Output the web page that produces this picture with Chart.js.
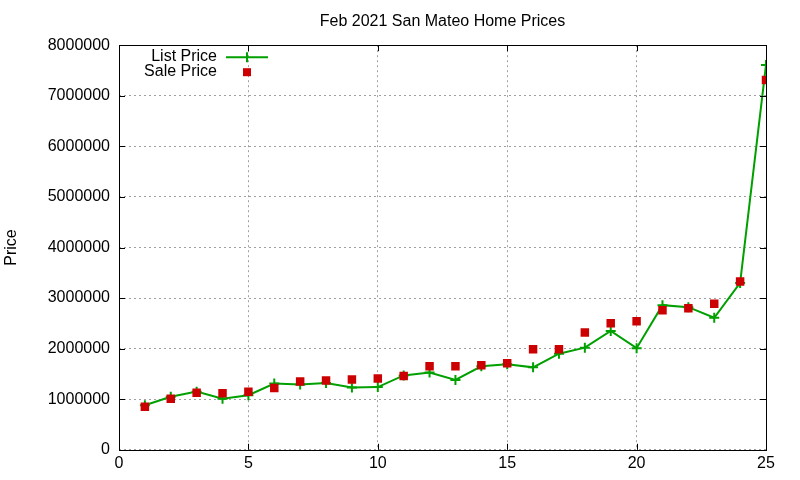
<!DOCTYPE html>
<html>
<head>
<meta charset="utf-8">
<script src="https://cdn.jsdelivr.net/npm/chart.js@4/dist/chart.umd.min.js"></script>
<style>
  html, body { margin: 0; padding: 0; background: #fff; }
  #wrap { width: 800px; height: 480px; }
</style>
</head>
<body>
<div id="wrap"><canvas id="myChart" width="800" height="480"></canvas></div>
<script>
// home index (1..25) in sorted order
var homes = [1, 2, 3, 4, 5, 6, 7, 8, 9, 10, 11, 12, 13, 14, 15, 16, 17, 18, 19, 20, 21, 22, 23, 24, 25];
var listPrices = [880000, 1050000, 1150000, 1010000, 1080000, 1310000, 1290000, 1320000, 1230000, 1240000,
                  1470000, 1530000, 1380000, 1650000, 1690000, 1630000, 1900000, 2020000, 2350000, 2010000,
                  2860000, 2820000, 2610000, 3300000, 7610000];
var salePrices = [850000, 1010000, 1130000, 1120000, 1150000, 1220000, 1350000, 1370000, 1390000, 1410000,
                  1460000, 1650000, 1650000, 1670000, 1710000, 1990000, 1990000, 2320000, 2500000, 2540000,
                  2760000, 2800000, 2890000, 3330000, 7310000];
var xTicks = [0, 5, 10, 15, 20, 25];
var yTicks = [0, 1000000, 2000000, 3000000, 4000000, 5000000, 6000000, 7000000, 8000000];

var GREEN = '#00a000';
var RED = '#cc0000';
var FONT = 'Liberation Sans, Arial, sans-serif';

function pts(xs, ys){
  var out = [];
  for (var i = 0; i < xs.length; i++){
    out.push({x: xs[i], y: ys[i]});
  }
  return out;
}

// gnuplot style frame, inward ticks and inner legend
var framePlugin = {
  id: 'frame',
  afterDraw: function(chart){
    var ctx = chart.ctx;
    var a = chart.chartArea;
    var xs = chart.scales.x, ys = chart.scales.y;
    ctx.save();
    ctx.strokeStyle = '#000';
    ctx.lineWidth = 1;
    ctx.beginPath();
    for (var i = 0; i < yTicks.length; i++){
      var py = Math.round(ys.getPixelForValue(yTicks[i])) + 0.5;
      ctx.moveTo(a.left, py); ctx.lineTo(a.left + 6, py);
      ctx.moveTo(a.right, py); ctx.lineTo(a.right - 6, py);
    }
    for (var j = 0; j < xTicks.length; j++){
      var px = Math.round(xs.getPixelForValue(xTicks[j])) + 0.5;
      ctx.moveTo(px, a.bottom); ctx.lineTo(px, a.bottom - 6);
      ctx.moveTo(px, a.top); ctx.lineTo(px, a.top + 6);
    }
    ctx.stroke();
    ctx.strokeRect(Math.round(a.left) + 0.5, Math.round(a.top) + 0.5,
                   Math.round(a.right - a.left), Math.round(a.bottom - a.top));

    // legend
    var ds = chart.data.datasets;
    ctx.font = '16px ' + FONT;
    ctx.fillStyle = '#000';
    ctx.textAlign = 'right';
    ctx.textBaseline = 'middle';
    var lx = a.left + 98, ly = a.top + 11;
    ctx.fillText(ds[1].label, lx, ly);
    ctx.fillText(ds[0].label, lx, ly + 15);
    // list price sample
    ctx.strokeStyle = GREEN;
    ctx.lineWidth = 2;
    ctx.beginPath();
    ctx.moveTo(lx + 9, ly + 1); ctx.lineTo(lx + 51, ly + 1);
    ctx.moveTo(lx + 30, ly - 4); ctx.lineTo(lx + 30, ly + 6);
    ctx.stroke();
    // sale price sample
    ctx.fillStyle = RED;
    ctx.fillRect(lx + 26, ly + 12, 8, 8);
    ctx.restore();
  }
};

var ctx = document.getElementById('myChart');
var myChart = new Chart(ctx, {
  type: 'scatter',
  data: {
    datasets: [{
      label: 'Sale Price',
      data: pts(homes, salePrices),
      showLine: false,
      pointStyle: 'rect',
      pointRadius: 6,
      pointBackgroundColor: RED,
      pointBorderColor: RED,
      pointBorderWidth: 0
    }, {
      label: 'List Price',
      data: pts(homes, listPrices),
      showLine: true,
      borderColor: GREEN,
      borderWidth: 2,
      pointStyle: 'cross',
      pointRadius: 5,
      pointBorderColor: GREEN,
      pointBorderWidth: 2,
      tension: 0
    }]
  },
  options: {
    responsive: false,
    animation: false,
    layout: { padding: { left: 2, right: 34, top: 0, bottom: 3 } },
    plugins: {
      legend: { display: false },
      tooltip: { enabled: false },
      title: {
        display: true,
        fullSize: false,
        text: 'Feb 2021 San Mateo Home Prices',
        color: '#000',
        font: { family: FONT, size: 16, weight: 'normal' },
        padding: { top: 12, bottom: 14 }
      }
    },
    scales: {
      x: {
        type: 'linear',
        min: 0, max: 25,
        afterBuildTicks: function(s){ s.ticks = xTicks.map(function(v){ return {value: v}; }); },
        ticks: { color: '#000', font: { family: FONT, size: 16 }, padding: 4, maxRotation: 0 },
        grid: { color: '#a0a0a0', drawTicks: false, lineWidth: 1 },
        border: { display: false, dash: [2, 3] }
      },
      y: {
        type: 'linear',
        min: 0, max: 8000000,
        afterBuildTicks: function(s){ s.ticks = yTicks.map(function(v){ return {value: v}; }); },
        afterFit: function(s){ s.width = 117; },
        ticks: { color: '#000', font: { family: FONT, size: 16 }, padding: 9,
                 callback: function(v){ return String(v); } },
        grid: { color: '#a0a0a0', drawTicks: false, lineWidth: 1 },
        border: { display: false, dash: [2, 3] },
        title: { display: true, text: 'Price', color: '#000',
                 font: { family: FONT, size: 16 }, padding: { top: 0, bottom: 0 } }
      }
    }
  },
  plugins: [framePlugin]
});
</script>
</body>
</html>
